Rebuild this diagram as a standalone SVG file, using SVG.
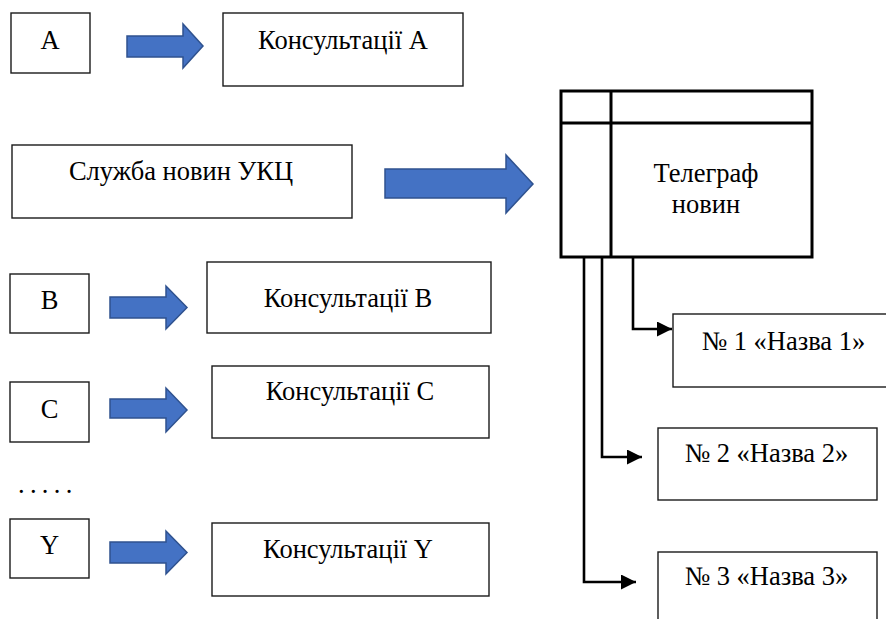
<svg xmlns="http://www.w3.org/2000/svg" width="886" height="619" viewBox="0 0 886 619">
<style>
.box{fill:#fff;stroke:#1a1a1a;stroke-width:1.4}
.tg{fill:#fff;stroke:#000;stroke-width:3}
.tl{stroke:#000;stroke-width:3}
.ba{fill:#4472C4;stroke:#2F528F;stroke-width:1.5;stroke-linejoin:miter}
.t{font-family:"Liberation Serif","Times New Roman",serif;font-size:26.5px;fill:#000;text-anchor:middle}
.con{fill:none;stroke:#000;stroke-width:2.6}
</style>
<defs>
<marker id="ah" markerWidth="15" markerHeight="15" refX="15" refY="7.5" orient="auto" markerUnits="userSpaceOnUse"><path d="M0,0 L15,7.5 L0,15 z" fill="#000"/></marker>
</defs>
<g id="nodeA"><rect class="box" x="11" y="13" width="79" height="60"/><text class="t" x="50" y="49">A</text></g>
<g id="arrowA"><path class="ba" d="M127,36 H183 V24 L203,46 L183,68 V57 H127 Z"/></g>
<g id="consA"><rect class="box" x="223" y="13" width="240" height="73"/><text class="t" x="343" y="49">Консультації А</text></g>
<g id="service"><rect class="box" x="12" y="145" width="340" height="73"/><text class="t" x="181" y="180">Служба новин УКЦ</text></g>
<g id="arrowMain"><path class="ba" d="M385,169 H506 V155 L533,184 L506,213 V198 H385 Z"/></g>
<g id="telegraph"><rect class="tg" x="561" y="91" width="251" height="166"/><line class="tl" x1="611" y1="91" x2="611" y2="257"/><line class="tl" x1="561" y1="123" x2="812" y2="123"/><text class="t" x="706" y="182">Телеграф</text><text class="t" x="706" y="213">новин</text></g>
<g id="nodeB"><rect class="box" x="10" y="274" width="79" height="59"/><text class="t" x="49.5" y="309">B</text></g>
<g id="arrowB"><path class="ba" d="M110,297 H166 V286 L187,307.5 L166,329 V318 H110 Z"/></g>
<g id="consB"><rect class="box" x="207" y="262" width="284" height="71"/><text class="t" x="348" y="307">Консультації В</text></g>
<g id="nodeC"><rect class="box" x="10" y="382" width="79" height="60"/><text class="t" x="49.5" y="418">C</text></g>
<g id="arrowC"><path class="ba" d="M110,399 H166 V388 L187,410 L166,432 V418 H110 Z"/></g>
<g id="consC"><rect class="box" x="212" y="366" width="277" height="72"/><text class="t" x="350" y="400">Консультації С</text></g>
<g id="dots"><text x="18" y="493" style="font-family:'Liberation Serif',serif;font-size:26.5px;letter-spacing:5.3px">.....</text></g>
<g id="nodeY"><rect class="box" x="10" y="519" width="79" height="59"/><text class="t" x="49.5" y="554">Y</text></g>
<g id="arrowY"><path class="ba" d="M110,542 H166 V531 L187,552.5 L166,574 V563 H110 Z"/></g>
<g id="consY"><rect class="box" x="212" y="523" width="277" height="73"/><text class="t" x="348" y="558">Консультації Y</text></g>
<g id="n1"><rect class="box" x="673" y="314" width="221" height="73"/><text class="t" x="783.5" y="350">№ 1 «Назва 1»</text></g>
<g id="n2"><rect class="box" x="658" y="428" width="219" height="72"/><text class="t" x="766.5" y="462">№ 2 «Назва 2»</text></g>
<g id="n3"><rect class="box" x="658" y="552" width="219" height="80"/><text class="t" x="766.5" y="585">№ 3 «Назва 3»</text></g>
<g id="connectors">
<path class="con" d="M633,257 V329 H672" marker-end="url(#ah)"/>
<path class="con" d="M602,257 V457 H642" marker-end="url(#ah)"/>
<path class="con" d="M584,257 V582 H636" marker-end="url(#ah)"/>
</g>
</svg>
